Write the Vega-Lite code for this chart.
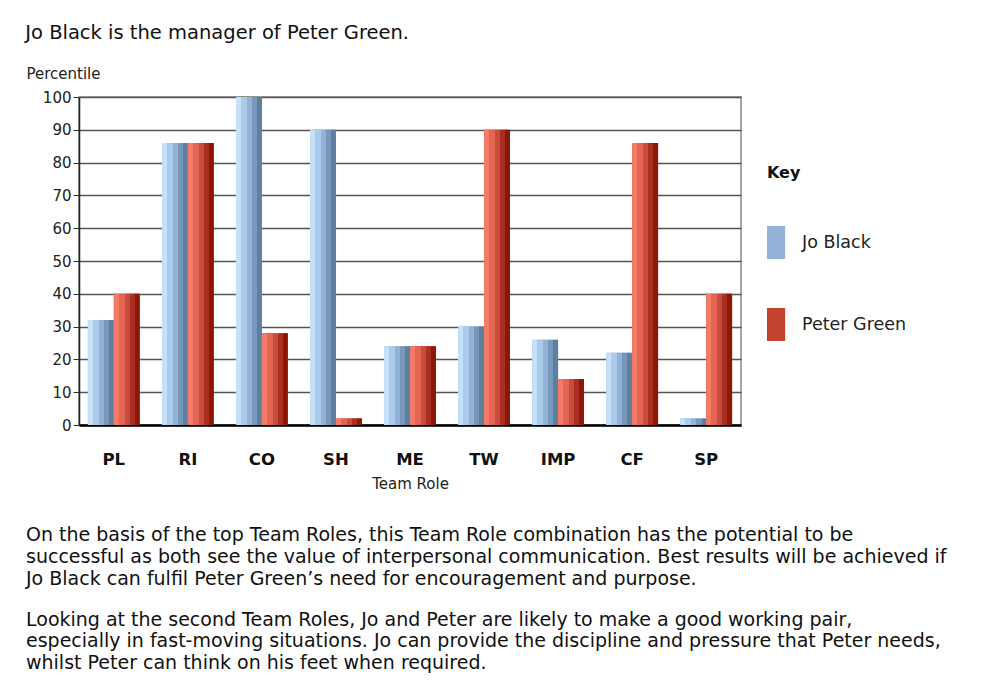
{
  "$schema": "https://vega.github.io/schema/vega-lite/v6.json",
  "background": "white",
  "padding": {"left": 25, "top": 22, "right": 5, "bottom": 5},
  "title": {"text": "Jo Black is the manager of Peter Green.", "anchor": "start", "frame": "bounds", "fontSize": 19.5, "fontWeight": "normal", "font": "DejaVu Sans", "color": "#111", "offset": 22},
  "spacing": 33,
  "vconcat": [
    {
      "width": 662,
      "height": 328,
      "data": {"values": [
        {"role": "PL", "person": "Jo Black", "value": 32},
        {"role": "PL", "person": "Peter Green", "value": 40},
        {"role": "RI", "person": "Jo Black", "value": 86},
        {"role": "RI", "person": "Peter Green", "value": 86},
        {"role": "CO", "person": "Jo Black", "value": 100},
        {"role": "CO", "person": "Peter Green", "value": 28},
        {"role": "SH", "person": "Jo Black", "value": 90},
        {"role": "SH", "person": "Peter Green", "value": 2},
        {"role": "ME", "person": "Jo Black", "value": 24},
        {"role": "ME", "person": "Peter Green", "value": 24},
        {"role": "TW", "person": "Jo Black", "value": 30},
        {"role": "TW", "person": "Peter Green", "value": 90},
        {"role": "IMP", "person": "Jo Black", "value": 26},
        {"role": "IMP", "person": "Peter Green", "value": 14},
        {"role": "CF", "person": "Jo Black", "value": 22},
        {"role": "CF", "person": "Peter Green", "value": 86},
        {"role": "SP", "person": "Jo Black", "value": 2},
        {"role": "SP", "person": "Peter Green", "value": 40}
      ]},
      "encoding": {
        "x": {"field": "role", "type": "nominal", "sort": ["PL", "RI", "CO", "SH", "ME", "TW", "IMP", "CF", "SP"],
              "scale": {"paddingInner": 0.3, "paddingOuter": 0.12},
              "axis": {"title": "Team Role", "labelAngle": 0, "labelFontSize": 16.5, "labelFontWeight": "bold", "labelColor": "#111", "labelPadding": 26, "ticks": false, "domainColor": "#000", "domainWidth": 2.5, "titleFontSize": 15, "titleFontWeight": "normal", "titleColor": "#222", "titlePadding": 9}},
        "xOffset": {"field": "person", "type": "nominal", "scale": {"paddingInner": 0}},
        "y": {"field": "value", "type": "quantitative", "scale": {"domain": [0, 100], "nice": false},
              "axis": {"title": "Percentile", "titleAngle": 0, "titleX": -53, "titleY": -19, "titleAlign": "left", "titleBaseline": "alphabetic", "titleFontSize": 15, "titleFontWeight": "normal", "titleColor": "#222",
                       "values": [0, 10, 20, 30, 40, 50, 60, 70, 80, 90, 100], "grid": true, "gridColor": "#555", "gridWidth": 1.3, "tickColor": "#333", "tickSize": 6, "labelFontSize": 15, "labelColor": "#222", "labelPadding": 2, "domainColor": "#222", "domainWidth": 1.5}}
      },
      "layer": [
        {
          "mark": {"type": "bar"},
          "encoding": {
            "color": {"field": "person", "type": "nominal",
                      "scale": {"domain": ["Jo Black", "Peter Green"], "range": ["#92b3d7", "#c4432f"]},
                      "legend": {"title": "Key", "orient": "none", "legendX": 688, "legendY": 68, "titleFontSize": 16, "titleFontWeight": "bold", "titleColor": "#111", "titlePadding": 45, "labelFontSize": 17.5, "labelColor": "#222", "labelOffset": 2, "rowPadding": 49, "symbolType": "M-1,-1H0.1V1H-1Z", "symbolSize": 1089, "symbolStrokeWidth": 0, "symbolOpacity": 1}}
          }
        },
        {
          "mark": {"type": "bar"},
          "encoding": {
            "fill": {
              "condition": {"test": "datum.person === 'Jo Black'", "value": {"gradient": "linear", "x1": 0, "x2": 1, "y1": 0, "y2": 0, "stops": [
                {"offset": 0, "color": "#c6e0f7"}, {"offset": 0.2, "color": "#c6e0f7"},
                {"offset": 0.2, "color": "#abcbec"}, {"offset": 0.42, "color": "#abcbec"},
                {"offset": 0.42, "color": "#92b3d6"}, {"offset": 0.62, "color": "#92b3d6"},
                {"offset": 0.62, "color": "#7898bb"}, {"offset": 0.82, "color": "#7898bb"},
                {"offset": 0.82, "color": "#5f7f9f"}, {"offset": 1, "color": "#5f7f9f"}]}},
              "value": {"gradient": "linear", "x1": 0, "x2": 1, "y1": 0, "y2": 0, "stops": [
                {"offset": 0, "color": "#f47b69"}, {"offset": 0.2, "color": "#f47b69"},
                {"offset": 0.2, "color": "#e36552"}, {"offset": 0.42, "color": "#e36552"},
                {"offset": 0.42, "color": "#c84c3b"}, {"offset": 0.62, "color": "#c84c3b"},
                {"offset": 0.62, "color": "#a93020"}, {"offset": 0.82, "color": "#a93020"},
                {"offset": 0.82, "color": "#8e1606"}, {"offset": 1, "color": "#8e1606"}]}
            }
          }
        }
      ]
    },
    {
      "width": 900,
      "height": 1,
      "data": {"values": []},
      "mark": {"type": "rule"},
      "encoding": {},
      "view": {"stroke": null},
      "title": {
        "text": [
          "On the basis of the top Team Roles, this Team Role combination has the potential to be",
          "successful as both see the value of interpersonal communication. Best results will be achieved if",
          "Jo Black can fulfil Peter Green’s need for encouragement and purpose."
        ],
        "subtitle": [
          "Looking at the second Team Roles, Jo and Peter are likely to make a good working pair,",
          "especially in fast-moving situations. Jo can provide the discipline and pressure that Peter needs,",
          "whilst Peter can think on his feet when required."
        ],
        "anchor": "start", "frame": "group", "dx": -53, "font": "DejaVu Sans", "fontSize": 19, "fontWeight": "normal", "color": "#111", "lineHeight": 21.7, "offset": 0,
        "subtitleFont": "DejaVu Sans", "subtitleFontSize": 19, "subtitleColor": "#111", "subtitleLineHeight": 21.7, "subtitlePadding": 22
      }
    }
  ],
  "config": {
    "font": "DejaVu Sans",
    "view": {"stroke": "#888", "strokeWidth": 1.5}
  }
}
